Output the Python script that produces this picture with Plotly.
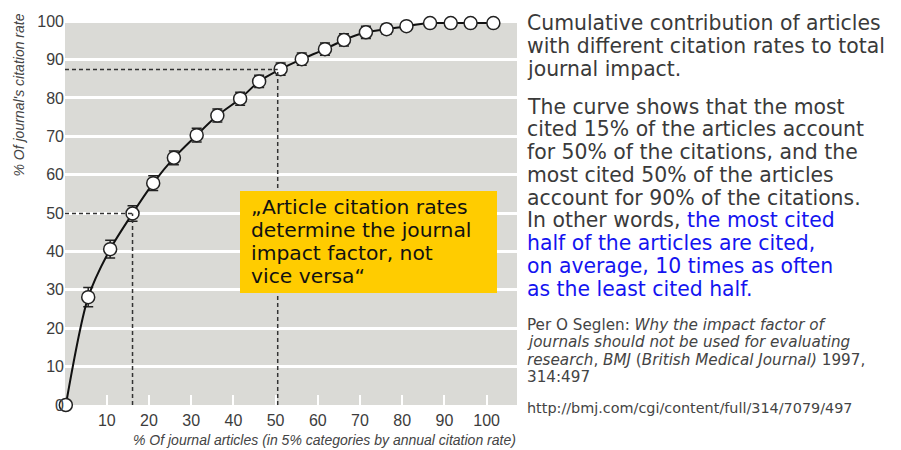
import plotly.graph_objects as go

# ---- data ----
article_pct = [0.3, 5.6, 10.8, 16.1, 21.0, 25.9, 31.3, 36.2, 41.6, 46.1, 51.2,
               56.2, 61.7, 66.2, 71.4, 76.3, 81.0, 86.6, 91.5, 96.2, 101.6]
citation_pct = [0.0, 28.1, 40.6, 49.9, 57.8, 64.4, 70.3, 75.4, 79.8, 84.3, 87.5,
                90.1, 92.7, 95.1, 97.1, 97.9, 98.7, 99.5, 99.5, 99.5, 99.5]
error_pct = [0, 2.5, 2.3, 2.0, 1.9, 1.8, 1.8, 1.7, 1.7, 1.6, 1.6,
             1.6, 1.6, 1.6, 1.6, 1.3, 0.8, 0, 0, 0, 0]
x_ticks = [0, 10, 20, 30, 40, 50, 60, 70, 80, 90, 100]
y_ticks = [0, 10, 20, 30, 40, 50, 60, 70, 80, 90, 100]
guide_x = [16.1, 50.5]
guide_y = [49.9, 87.4]

x_title = "% Of journal articles (in 5% categories by annual citation rate)"
y_title = "% Of journal's citation rate"
quote_lines = ["„Article citation rates", "determine the journal",
               "impact factor, not", "vice versa“"]
BLUE = "#1414f0"
para1 = ["Cumulative contribution of articles",
         "with different citation rates to total",
         "journal impact."]
para2 = ["The curve shows that the most",
         "cited 15% of the articles account",
         "for 50% of the citations, and the",
         "most cited 50% of the articles",
         "account for 90% of the citations.",
         "In other words, <span style='color:%s'>the most cited</span>" % BLUE,
         "<span style='color:%s'>half of the articles are cited,</span>" % BLUE,
         "<span style='color:%s'>on average, 10 times as often</span>" % BLUE,
         "<span style='color:%s'>as the least cited half.</span>" % BLUE]
cite_lines = ["Per O Seglen: <i>Why the impact factor of</i>",
              "<i>journals should not be used for evaluating</i>",
              "<i>research</i>, <i>BMJ</i> (<i>British Medical Journal)</i> 1997,",
              "314:497"]
url_line = "http://bmj.com/cgi/content/full/314/7079/497"

W, H = 901, 450
OFF = 8  # page offset of the figure inside the browser window


def px(x):
    return (x - OFF) / W


def py(y):
    return 1 - (y - OFF) / H


NARROW = "Liberation Sans Narrow, Liberation Sans, Arial Narrow, sans-serif"
TXT = "DejaVu Sans, Verdana, sans-serif"

fig = go.Figure()
fig.add_trace(go.Scatter(
    x=article_pct, y=citation_pct,
    mode="lines+markers",
    line=dict(color="#111111", width=2, shape="spline", smoothing=0.8),
    marker=dict(size=13, color="white", line=dict(color="#222222", width=1.5)),
    error_y=dict(type="data", array=error_pct, color="#222222", thickness=1.5, width=5),
    cliponaxis=False,
    showlegend=False,
))

shapes = []
for gx, gy in zip(guide_x, guide_y):
    shapes.append(dict(type="line", xref="x", yref="y", x0=0.1, x1=gx, y0=gy, y1=gy,
                       line=dict(color="#333333", width=1.5, dash="4px,3px")))
    shapes.append(dict(type="line", xref="x", yref="y", x0=gx, x1=gx, y0=0, y1=gy,
                       line=dict(color="#333333", width=1.5, dash="4px,3px")))
shapes.append(dict(type="rect", xref="paper", yref="paper",
                   x0=px(240), x1=px(497), y0=py(293), y1=py(191),
                   fillcolor="#ffcc00", line=dict(width=0), layer="above"))

annotations = []


def add_line(x, y, text, size, color, anchor="left"):
    annotations.append(dict(x=px(x), y=py(y), xref="paper", yref="paper",
                            text=text, showarrow=False, xanchor=anchor, yanchor="middle",
                            borderpad=0,
                            font=dict(family=TXT, size=size, color=color)))


for i, t in enumerate(quote_lines):
    add_line(250, 206.7 + 23.1 * i, t, 20.3, "#111111")
for i, t in enumerate(para1):
    add_line(526, 23.3 + 22.8 * i, t, 20.4, "#3a3a3a")
for i, t in enumerate(para2):
    add_line(526, 106.5 + 22.75 * i, t, 20.4, "#3a3a3a")
for i, t in enumerate(cite_lines):
    add_line(526, 324.5 + 17.6 * i, t, 15.2, "#444444")
add_line(526, 407.5, url_line, 14.4, "#444444")

annotations.append(dict(x=px(517), y=py(440), xref="paper", yref="paper",
                        text="<i>" + x_title + "</i>", showarrow=False, borderpad=0,
                        xanchor="right", yanchor="middle",
                        font=dict(family=NARROW, size=14, color="#444444")))
annotations.append(dict(x=px(18.5), y=py(95), xref="paper", yref="paper",
                        text="<i>" + y_title + "</i>", showarrow=False, textangle=-90,
                        xanchor="center", yanchor="middle", borderpad=0,
                        font=dict(family=NARROW, size=14, color="#444444")))

fig.update_layout(
    width=W, height=H,
    autosize=False,
    margin=dict(l=0, r=0, t=0, b=0, pad=0, autoexpand=False),
    paper_bgcolor="white",
    plot_bgcolor="#dadad6",
    shapes=shapes,
    annotations=annotations,
    xaxis=dict(domain=[px(65), px(517)], range=[0.1, 107.2], automargin=False,
               tickmode="array", tickvals=x_ticks, ticktext=[str(v) for v in x_ticks],
               ticks="inside", ticklen=10, tickwidth=2, tickcolor="white",
               ticklabelstandoff=4,
               showgrid=False, zeroline=False, showline=False,
               tickfont=dict(family=NARROW, size=16, color="#3c3c3c")),
    yaxis=dict(domain=[py(405), py(20)], range=[0, 100.3], automargin=False,
               tickmode="array", tickvals=y_ticks, ticktext=[str(v) for v in y_ticks],
               ticks="", showgrid=True, gridcolor="white", gridwidth=2.5,
               zeroline=False, showline=False,
               tickfont=dict(family=NARROW, size=16, color="#3c3c3c")),
)

fig.write_html("out.html")
